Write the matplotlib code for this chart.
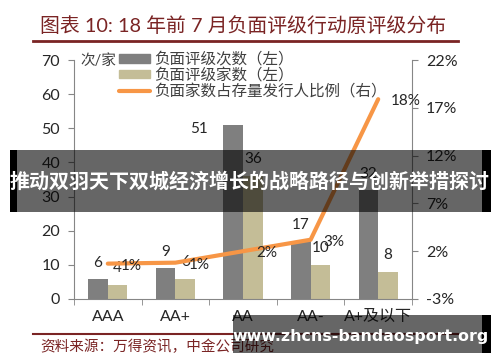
import numpy as np
import matplotlib
matplotlib.use("Agg")
import matplotlib.pyplot as plt
from matplotlib.patches import Patch, Rectangle
from matplotlib.lines import Line2D

plt.rcParams['font.family'] = ['Lato', 'Noto Sans CJK SC', 'DejaVu Sans']

# Data
categories = ['AAA', 'AA+', 'AA', 'AA-', 'A+及以下']
neg_actions = [6, 9, 51, 17, 32]        # 负面评级次数（左）
neg_issuers = [4, 6, 36, 10, 8]         # 负面评级家数（左）
neg_ratio = [0.7, 0.8, 2.0, 3.2, 17.9]  # 负面家数占存量发行人比例（右）, %

W, H = 500, 362
def fx(px):
    return px / W
def fy(py):
    return 1 - py / H

gray = '#7f7f7f'
tan = '#c4bd97'
orange = '#f79646'
maroon = '#7a2424'
spine_c = '#868686'
txt_c = '#262626'

fig = plt.figure(figsize=(5, 3.62), dpi=100)
ax = fig.add_axes([fx(74), fy(299), fx(412) - fx(74), fy(60) - fy(299)])
ax2 = ax.twinx()

x = np.arange(len(categories))
bw = 0.29
ax.bar(x - bw / 2, neg_actions, bw, color=gray, zorder=2)
ax.bar(x + bw / 2, neg_issuers, bw, color=tan, zorder=2)
ax2.plot(x, neg_ratio, color=orange, lw=3, solid_capstyle='round', zorder=3)

# value labels
for i, v in enumerate(neg_actions):
    if v == 51:
        # this one sits left of the bar in the original
        ax.annotate(str(v), (x[i] - bw / 2, v), xytext=(-34, -4), textcoords='offset pixels',
                    ha='center', va='center', fontsize=11, color=txt_c)
    else:
        ax.annotate(str(v), (x[i] - bw / 2, v), xytext=(0, 16), textcoords='offset pixels',
                    ha='center', va='center', fontsize=11, color=txt_c)
for i, v in enumerate(neg_issuers):
    ax.annotate(str(v), (x[i] + bw / 2, v), xytext=(0, 17), textcoords='offset pixels',
                ha='center', va='center', fontsize=11, color=txt_c)
for i, v in enumerate(neg_ratio):
    ax2.annotate(f"{v:.0f}%", (x[i], v), xytext=(13, -2), textcoords='offset pixels',
                 ha='left', va='center', fontsize=11, color=txt_c, zorder=5)

ax.set_xlim(-0.5, len(categories) - 0.5)
ax.set_ylim(0, 70)
ax.set_yticks(range(0, 71, 10))
ax2.set_ylim(-3, 22)
ax2.set_yticks(range(-3, 23, 5))
ax2.set_yticklabels([f"{t}%" for t in range(-3, 23, 5)])

ax.set_xticks(x)
ax.set_xticklabels(categories)
ax.set_xticks(np.arange(len(categories) + 1) - 0.5, minor=True)
ax.tick_params(axis='x', which='major', length=0, pad=8, labelsize=11.5, labelcolor=txt_c)
ax.tick_params(axis='x', which='minor', length=4, color=spine_c, direction='out')
ax.tick_params(axis='y', length=4, color=spine_c, pad=6, labelsize=11.5, labelcolor=txt_c)
ax2.tick_params(axis='y', length=4, color=spine_c, pad=6, labelsize=11.5, labelcolor=txt_c)

for a in (ax, ax2):
    a.spines['top'].set_visible(False)
    for s in ('left', 'right', 'bottom'):
        a.spines[s].set_color(spine_c)
ax.spines['right'].set_visible(False)
ax2.spines['left'].set_visible(False)
ax2.spines['bottom'].set_visible(False)

# legend
handles = [Patch(color=gray), Patch(color=tan), Line2D([], [], color=orange, lw=3, solid_capstyle='round')]
labels = ['负面评级次数（左）', '负面评级家数（左）', '负面家数占存量发行人比例（右）']
leg = ax.legend(handles, labels, loc='upper left', bbox_to_anchor=(fx(119), fy(52)),
                bbox_transform=fig.transFigure, frameon=False, fontsize=11.2,
                handlelength=2.0, handleheight=0.45, handletextpad=0.25, labelspacing=0.05,
                borderpad=0, borderaxespad=0)
for t in leg.get_texts():
    t.set_color('#404040')
fig.text(fx(80), fy(61), '次/家', fontsize=10.5, color='#404040', va='center', ha='left')

# title and source
fig.text(fx(40), fy(25), '图表 10: 18 年前 7 月负面评级行动原评级分布', fontsize=14.3,
         color=maroon, va='center', ha='left')
fig.add_artist(Line2D([fx(33), fx(458)], [fy(41), fy(41)], color=maroon, lw=2))
fig.add_artist(Line2D([fx(33), fx(458)], [fy(334), fy(334)], color=maroon, lw=1.5))
fig.text(fx(40), fy(347), '资料来源：万得资讯，中金公司研究', fontsize=10.5,
         color=maroon, va='center', ha='left')

# overlay banners
fig.add_artist(Rectangle((fx(17), fy(212)), fx(482) - fx(17), fy(150) - fy(212),
                         transform=fig.transFigure, color='black', alpha=0.6, lw=0, zorder=10))
fig.add_artist(Rectangle((fx(10), fy(212)), fx(7), fy(150) - fy(212),
                         transform=fig.transFigure, color='black', lw=0, zorder=10))
fig.add_artist(Rectangle((fx(482), fy(212)), fx(9), fy(150) - fy(212),
                         transform=fig.transFigure, color='black', lw=0, zorder=10))
fig.text(fx(250), fy(181), '推动双羽天下双城经济增长的战略路径与创新举措探讨', fontsize=14.4,
         fontweight='bold', color='white', ha='center', va='center', zorder=11,
         family=['Noto Sans CJK SC', 'DejaVu Sans'])

fig.add_artist(Rectangle((fx(233), fy(353)), fx(482) - fx(233), fy(315) - fy(353),
                         transform=fig.transFigure, color='black', alpha=0.6, lw=0, zorder=10))
fig.add_artist(Rectangle((fx(482), fy(353)), fx(9), fy(315) - fy(353),
                         transform=fig.transFigure, color='black', lw=0, zorder=10))
fig.text(fx(361), fy(336), 'www.zhcns-bandaosport.org', fontsize=11.4,
         fontweight='bold', color='white', ha='center', va='center', zorder=11,
         family=['DejaVu Sans'])

fig.savefig('out.png', dpi=100)
